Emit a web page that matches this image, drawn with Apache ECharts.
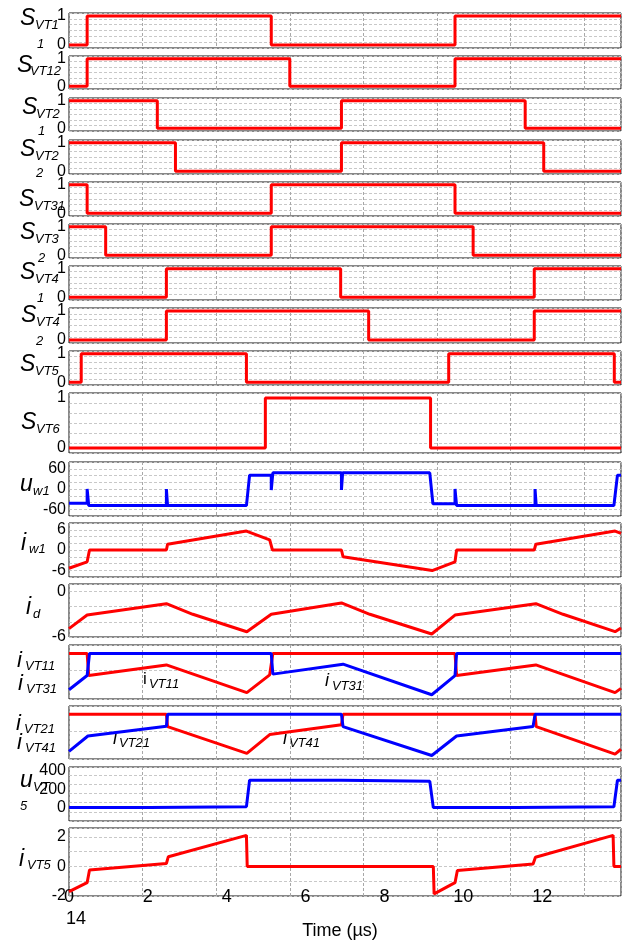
<!DOCTYPE html>
<html>
<head>
<meta charset="utf-8">
<script src="https://cdn.jsdelivr.net/npm/echarts@6/dist/echarts.min.js"></script>
<style>
  html, body { margin: 0; padding: 0; background: #fff; }
  #chart { width: 623px; height: 941px; }
</style>
</head>
<body>
<div id="chart"></div>
<script>
// time axis (µs)
const timeTicks = [0, 2, 4, 6, 8, 10, 12]

// gate signals, [t, state] at each switching instant (drawn as steps)
const sVT11 = [[0, 0], [0.46, 1], [5.13, 0], [9.79, 1], [14, 1]]
const sVT12 = [[0, 0], [0.46, 1], [5.6, 0], [9.79, 1], [14, 1]]
const sVT21 = [[0, 1], [2.24, 0], [6.91, 1], [11.57, 0], [14, 0]]
const sVT22 = [[0, 1], [2.7, 0], [6.91, 1], [12.04, 0], [14, 0]]
const sVT31 = [[0, 1], [0.46, 0], [5.13, 1], [9.79, 0], [14, 0]]
const sVT32 = [[0, 1], [0.93, 0], [5.13, 1], [10.25, 0], [14, 0]]
const sVT41 = [[0, 0], [2.47, 1], [6.89, 0], [11.8, 1], [14, 1]]
const sVT42 = [[0, 0], [2.47, 1], [7.6, 0], [11.8, 1], [14, 1]]
const sVT5 = [[0, 0], [0.31, 1], [4.5, 0], [9.63, 1], [13.83, 0], [14, 0]]
const sVT6 = [[0, 0], [4.98, 1], [9.17, 0], [14, 0]]

// analog waveforms, [t, value]
const uW1 = [[0, -42], [0.46, -42], [0.46, 0], [0.5, 0], [0.5, -49], [2.47, -49], [2.47, 0], [2.5, 0], [2.5, -49],
  [4.5, -49], [4.58, 41], [5.13, 41], [5.13, -3], [5.17, -3], [5.17, 48], [6.91, 48], [6.91, -3], [6.94, -3],
  [6.94, 48], [9.15, 48], [9.23, -44], [9.79, -44], [9.79, 0], [9.83, 0], [9.83, -49], [11.82, -49], [11.82, 0],
  [11.85, 0], [11.85, -49], [13.82, -49], [13.91, 41], [14, 41]]
const iW1 = [[0, -5.4], [0.46, -3.5], [0.52, 0], [2.47, 0], [2.5, 1.7], [4.5, 5.6], [5.09, 3.0], [5.16, 0],
  [6.91, 0], [6.95, -2.0], [9.21, -6.1], [9.79, -3.5], [9.83, 0], [11.8, 0], [11.84, 1.7], [13.85, 5.6], [14, 4.9]]
const iD = [[0, -4.9], [0.46, -3.1], [2.47, -1.6], [3.14, -3.0], [4.51, -5.3], [5.13, -3.0], [6.91, -1.5],
  [7.63, -3.0], [9.2, -5.6], [9.79, -3.1], [11.84, -1.6], [12.53, -3.0], [13.85, -5.3], [14, -4.8]]
const iVT11 = [[0, 0], [0.46, 0], [0.5, -3.1], [2.47, -1.6], [4.51, -5.5], [5.09, -3.0], [5.17, 0], [9.79, 0],
  [9.83, -3.1], [11.84, -1.6], [13.85, -5.5], [14, -4.9]]
const iVT31 = [[0, -5.1], [0.46, -3.1], [0.52, 0], [5.13, 0], [5.17, -2.9], [6.95, -1.5], [9.2, -5.8],
  [9.79, -3.1], [9.83, 0], [14, 0]]
const iVT21 = [[0, 0], [2.47, 0], [2.5, -1.75], [4.51, -5.6], [5.09, -2.9], [6.91, -1.5], [6.95, 0], [11.82, 0],
  [11.85, -1.75], [13.85, -5.7], [14, -5.0]]
const iVT41 = [[0, -5.3], [0.48, -3.1], [2.47, -1.7], [2.5, 0], [6.91, 0], [6.95, -1.75], [9.2, -5.9],
  [9.83, -3.1], [11.77, -1.75], [11.82, 0], [14, 0]]
const uVT5 = [[0, 0], [2.04, 0], [2.04, 10], [4.5, 10], [4.58, 296], [6.91, 296], [6.91, 286], [9.15, 286],
  [9.24, 0], [11.35, 0], [11.35, 10], [13.82, 10], [13.91, 296], [14, 296]]
const iVT5 = [[0, -1.7], [0.46, -1.1], [0.52, -0.24], [2.47, 0.2], [2.52, 0.66], [4.5, 2.1], [4.52, 0], [9.24, 0],
  [9.26, -1.86], [9.79, -1.1], [9.85, -0.28], [11.77, 0.17], [11.83, 0.62], [13.8, 2.1], [13.82, 0], [14, 0]]

const RED = '#ff0000'
const BLUE = '#0000ff'
const FONT = 'Liberation Sans'

const sw = { min: -0.1, max: 1.1, step: 0.2, labels: [0, 1] }

const panels = [
  { top: 13, height: 35, ...sw, lines: [[sVT11, RED, true]] },
  { top: 56, height: 33, ...sw, lines: [[sVT12, RED, true]] },
  { top: 98, height: 33, ...sw, lines: [[sVT21, RED, true]] },
  { top: 140, height: 34, ...sw, lines: [[sVT22, RED, true]] },
  { top: 182, height: 34, ...sw, lines: [[sVT31, RED, true]] },
  { top: 224, height: 34, ...sw, lines: [[sVT32, RED, true]] },
  { top: 266, height: 34, ...sw, lines: [[sVT41, RED, true]] },
  { top: 308, height: 35, ...sw, lines: [[sVT42, RED, true]] },
  { top: 351, height: 34, ...sw, lines: [[sVT5, RED, true]] },
  { top: 393, height: 60, ...sw, lines: [[sVT6, RED, true]] },
  { top: 462, height: 54, min: -80, max: 80, step: 20, labels: [-60, 0, 60], lines: [[uW1, BLUE]] },
  { top: 523, height: 54, min: -8, max: 8, step: 2, labels: [-6, 0, 6], lines: [[iW1, RED]] },
  { top: 584, height: 53, min: -6, max: 1, step: 2, labels: [-6, 0], lines: [[iD, RED]] },
  { top: 645, height: 54, min: -6.4, max: 1.2, step: 4, labels: [], lines: [[iVT11, RED], [iVT31, BLUE]] },
  { top: 706, height: 53, min: -6.4, max: 1.2, step: 4, labels: [], lines: [[iVT21, RED], [iVT41, BLUE]] },
  { top: 767, height: 54, min: -145, max: 440, step: 100, labels: [0, 200, 400], lines: [[uVT5, BLUE]] },
  { top: 828, height: 69, min: -2, max: 2.6, step: 1, labels: [-2, 0, 2], lines: [[iVT5, RED]] },
]

// axis titles: [text, x, baseline, size, italic]
const titles = [
  ['S', 20, 26, 23], ['VT1', 35, 29, 13], ['1', 37, 48, 13],
  ['S', 17, 73, 23], ['VT12', 30, 75, 13],
  ['S', 22, 115, 23], ['VT2', 36, 118, 13], ['1', 38, 135, 13],
  ['S', 20, 157, 23], ['VT2', 35, 160, 13], ['2', 36, 177, 13],
  ['S', 19, 207, 23], ['VT31', 34, 210, 13],
  ['S', 20, 240, 23], ['VT3', 35, 243, 13], ['2', 38, 262, 13],
  ['S', 20, 280, 23], ['VT4', 35, 283, 13], ['1', 37, 302, 13],
  ['S', 21, 323, 23], ['VT4', 36, 326, 13], ['2', 36, 345, 13],
  ['S', 20, 372, 23], ['VT5', 35, 375, 13],
  ['S', 21, 430, 23], ['VT6', 36, 433, 13],
  ['u', 20, 492, 23], ['w1', 33, 495, 13],
  ['i', 21, 551, 23], ['w1', 29, 553, 13],
  ['i', 26, 615, 23], ['d', 33, 618, 13],
  ['i', 17, 668, 22], ['VT11', 25, 670, 13], ['i', 18, 691, 22], ['VT31', 26, 693, 13],
  ['i', 16, 731, 22], ['VT21', 24, 733, 13], ['i', 17, 750, 22], ['VT41', 25, 752, 13],
  ['u', 20, 788, 23], ['VT', 33, 791, 13], ['5', 20, 810, 13],
  ['i', 19, 867, 23], ['VT5', 27, 869, 13],
  // in-plot notes
  ['i', 143, 685, 17, false], ['VT11', 149, 688, 13],
  ['i', 325, 687, 18], ['VT31', 332, 690, 13],
  ['i', 113, 745, 18], ['VT21', 119, 747, 13],
  ['i', 283, 745, 18], ['VT41', 289, 747, 13],
]

const grid = []
const xAxis = []
const yAxis = []
const series = []
const last = panels.length - 1

panels.forEach((p, i) => {
  grid.push({ left: 69, right: 2, top: p.top, height: p.height, show: true, borderColor: '#111', borderWidth: 1 })
  xAxis.push({
    type: 'value', gridIndex: i, min: 0, max: 14, interval: 2,
    axisLine: { show: false }, axisTick: { show: false }, splitLine: { show: false },
    axisLabel: i === last
      ? { show: true, customValues: timeTicks, color: '#000', fontSize: 18, fontFamily: FONT, margin: -8 }
      : { show: false },
    name: i === last ? 'Time (µs)' : '',
    nameLocation: 'middle',
    nameGap: 26,
    nameTextStyle: { color: '#000', fontSize: 18, fontFamily: FONT, padding: [0, 10, 0, 0] },
  })
  // vertical grid of the original plot (its own spacing)
  xAxis.push({
    type: 'value', gridIndex: i, min: 0, max: 7.5, interval: 1, position: 'top',
    axisLine: { show: false }, axisTick: { show: false }, axisLabel: { show: false },
    splitLine: { show: true, lineStyle: { color: '#a8a8a8', type: [3, 2], width: 1 } },
  })
  yAxis.push({
    type: 'value', gridIndex: i, min: p.min, max: p.max, interval: p.step,
    axisLine: { show: false }, axisTick: { show: false },
    axisLabel: { show: p.labels.length > 0, customValues: p.labels, color: '#000', fontSize: 16, fontFamily: FONT, margin: 3 },
    splitLine: { show: true, lineStyle: { color: '#c8c8c8', type: [3, 2], width: 1 } },
  })
  p.lines.forEach(([data, color, isStep]) => {
    series.push({
      type: 'line', xAxisIndex: i * 2, yAxisIndex: i, data,
      step: isStep ? 'end' : false,
      symbol: 'none', silent: true,
      lineStyle: { color, width: 3 },
    })
  })
})

const graphic = titles.map(([text, x, base, size, italic]) => ({
  type: 'text', x, y: base + size * 0.19, silent: true,
  style: {
    text, fill: '#000', fontSize: size, fontFamily: FONT,
    fontStyle: italic === false ? 'normal' : 'italic',
    verticalAlign: 'bottom', align: 'left',
  },
}))
graphic.push({
  type: 'text', x: 76, y: 919, silent: true,
  style: { text: '14', fill: '#000', fontSize: 18, fontFamily: FONT, align: 'center', verticalAlign: 'middle' },
})

const chart = echarts.init(document.getElementById('chart'))
chart.setOption({
  animation: false,
  backgroundColor: '#fff',
  grid, xAxis, yAxis, series, graphic,
})
</script>
</body>
</html>
